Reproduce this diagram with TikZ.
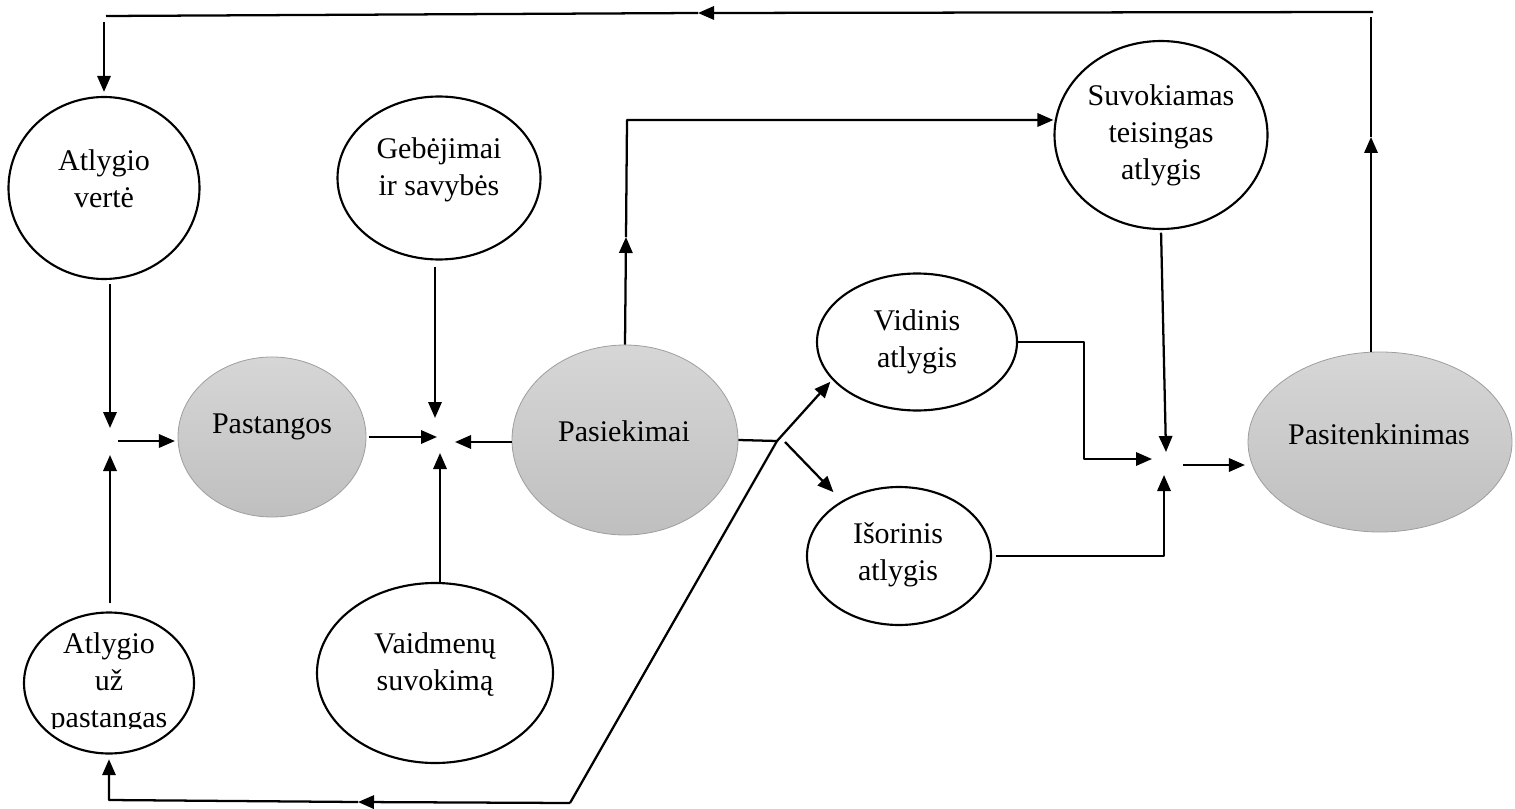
\documentclass[tikz,border=0pt]{standalone}
\usepackage{fontspec}
\setmainfont{Liberation Serif}
\usetikzlibrary{shapes.geometric,arrows.meta}
\begin{document}
\begin{tikzpicture}[x={(0.75pt,0)}, y={(0,-0.75pt)},
  line width=1.7pt, line join=round,
  arr/.style={-{Triangle[length=12pt,width=10pt]}},
  sz/.style 2 args={minimum width={#1*0.75pt}, minimum height={#2*0.75pt}},
  oval/.style={ellipse, draw, line width=1.6pt, fill=white, inner sep=0pt},
  greyoval/.style={ellipse, draw=black!38, line width=0.6pt,
    top color=black!16, bottom color=black!25, inner sep=0pt},
  lbl/.style={align=center, inner sep=0pt,
    font=\fontsize{22.5pt}{27.75pt}\selectfont},
]
\useasboundingbox (0,0) rectangle (1515,809);

% ---- ovals ----
\node[oval, sz={191}{182}] (av) at (104,188) {};
\node[lbl] (avt) at (104,178.5) {Atlygio\\vertė};

\node[oval, sz={203}{163}] (gs) at (439,178) {};
\node[lbl] (gst) at (439,170) {Gebėjimai\\ir savybės};

\node[oval, sz={213}{188}] (st) at (1161,135) {};
\node[lbl] (stt) at (1161,135) {Suvokiamas\\teisingas\\atlygis};

\node[oval, sz={200}{137}] (vi) at (917,342) {};
\node[lbl] (vit) at (917,341.5) {Vidinis\\atlygis};

\node[oval, sz={184}{138}] (is) at (899,556) {};
\node[lbl] (ist) at (898,555) {Išorinis\\atlygis};

\node[oval, sz={170}{141}] (au) at (109,683) {};
\begin{scope}
  \clip (0,600) rectangle (250,728);
  \node[lbl] (aut) at (109,683) {Atlygio\\už\\pastangas};
\end{scope}

\node[oval, sz={236}{180}] (vs) at (435,673) {};
\node[lbl] (vst) at (435,665) {Vaidmenų\\suvokimą};

% ---- shaded ovals ----
\node[greyoval, sz={188}{160}] (pg) at (272,437) {};
\node[lbl] (pgt) at (272,427) {Pastangos};

\node[greyoval, sz={226}{190}] (pk) at (625,440) {};
\node[lbl] (pkt) at (624,431) {Pasiekimai};

\node[greyoval, sz={264}{180}] (ps) at (1380,442) {};
\node[lbl] (pst) at (1379,434) {Pasitenkinimas};

% ---- junction in front of Pastangos ----
\coordinate (t1) at (110,428);
\draw[arr, shorten <=3pt] (av.south -| t1) -- (t1);
\coordinate (t2) at (110,455);
\draw[arr, shorten <=6pt] (au.north -| t2) -- (t2);
\coordinate (s3) at (118,441);
\draw[arr, shorten >=2pt] (s3) -- (s3 -| pg.west);

% ---- junction between Pastangos and Pasiekimai ----
\coordinate (t4) at (435,418);
\draw[arr, shorten <=4.5pt] (gs.south -| t4) -- (t4);
\coordinate (t5) at (437,437);
\draw[arr, shorten <=2pt] (pg.east) -- (t5);
\coordinate (t6) at (455,442);
\draw[arr] (pk.west |- t6) -- (t6);
\coordinate (t7) at (440,453);
\draw[arr] (vs.north -| t7) -- (t7);

% ---- Pasiekimai upward to Suvokiamas teisingas atlygis ----
\coordinate (a1) at (626,237);
\coordinate (c1) at (627,120);
\draw[arr] (pk.north) -- (a1);
\draw[arr] (a1) -- (c1) -- (c1 -| st.west);

% ---- Pasiekimai to the rewards, and the lower feedback ----
\coordinate (b1) at (777,441);
\draw (pk.east) -- (b1);
\coordinate (b0) at (570,803);
\draw[arr, shorten >=2pt] (b0) -- (b1) -- (vi.204);
\coordinate (ba) at (358,802);
\coordinate (bc) at (109,800);
\draw[arr] (b0) -- (ba);
\draw[arr, shorten >=3.5pt] (ba) -- (bc) -- (au.south);
\coordinate (b2) at (785,442);
\draw[arr, shorten >=9pt] (b2) -- (is.136);

% ---- junction in front of Pasitenkinimas ----
\coordinate (v2) at (1084,342);
\coordinate (t8) at (1152,459);
\draw[arr] (vi.east) -- (v2) |- (t8);
\coordinate (t9) at (1166,452);
\draw[arr, shorten <=2pt] (st.south) -- (t9);
\coordinate (t10) at (1164,475);
\draw[arr, shorten <=3pt] (is.east) -| (t10);
\coordinate (s11) at (1183,465);
\draw[arr, shorten >=2pt] (s11) -- (s11 -| ps.west);

% ---- upper feedback loop ----
\coordinate (rA) at (1371,137);
\draw[arr] (ps.north -| rA) -- (rA);
\coordinate (rT) at (1371,17);
\draw (rA) -- (rT);
\coordinate (tR) at (1373,12);
\coordinate (tA) at (698,13);
\coordinate (tL) at (106,16);
\draw[arr] (tR) -- (tA);
\draw (tA) -- (tL);
\coordinate (lT) at (104,22);
\draw[arr, shorten >=3pt] (lT) -- (av.north);
\end{tikzpicture}
\end{document}
